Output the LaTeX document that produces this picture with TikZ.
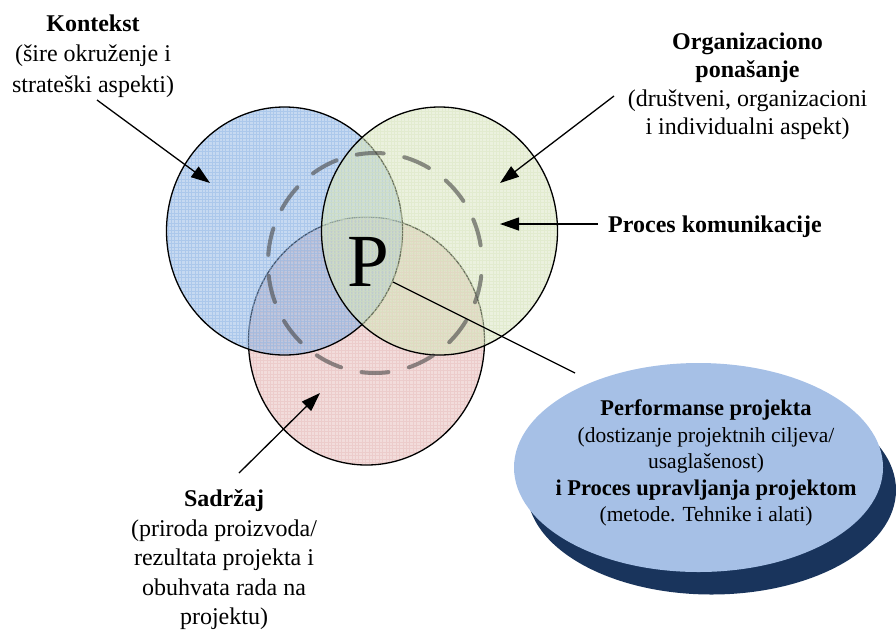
\documentclass[tikz,border=0pt]{standalone}
\usepackage{fontspec}
\setmainfont{Liberation Serif}
\usetikzlibrary{arrows.meta,shapes.geometric}

\definecolor{blueC}{RGB}{141,179,227}
\definecolor{greenC}{RGB}{215,228,189}
\definecolor{redC}{RGB}{229,185,183}
\definecolor{perfFill}{RGB}{166,192,230}
\definecolor{perfShadow}{RGB}{25,52,92}
\definecolor{ringGray}{RGB}{70,70,70}

% one tinted, gridded circle of the Venn figure
% #1 = name, #2 = x, #3 = y, #4 = colour
\newcommand\venncircle[4]{%
  \node[ellipse, minimum width=236pt, minimum height=248pt, inner sep=0pt] (#1) at (#2,#3) {};
  \begin{scope}
    \clip (#2,#3) ellipse [x radius=118, y radius=124];
    \fill[#4, fill opacity=.5] (#2,#3) ellipse [x radius=118, y radius=124];
    \draw[#4, draw opacity=.45, line width=.6pt]
      \foreach \k in {0,...,71} {({#2-120+\k*3.4},{#3-127}) -- ++(0,254)}
      \foreach \k in {0,...,75} {({#2-120},{#3-127+\k*3.4}) -- ++(240,0)};
  \end{scope}
  \draw[line width=1.3pt] (#2,#3) ellipse [x radius=118, y radius=124];
}

\newcommand\perfbold[1]{{\fontsize{22.5}{26.5}\selectfont\bfseries #1}}

\tikzset{
  lbl/.style={align=center, inner sep=0pt, font=\fontsize{24}{29.5}\selectfont},
  perftext/.style={align=center, inner sep=0pt, font=\fontsize{21.5}{26.5}\selectfont},
  pointer/.style={line width=1.3pt, -{Triangle[length=19pt,width=13pt]}},
  ring/.style={ringGray, draw opacity=.6, line width=4pt, line cap=round,
               dash pattern=on 27pt off 21pt, dash phase=35pt},
}

\begin{document}
\begin{tikzpicture}[x=1pt, y=-1pt]
\useasboundingbox (0,0) rectangle (896,630);

% Venn circles: the later ones veil the earlier outlines
\venncircle{sadrzaj}{366.5}{341}{redC}
\venncircle{kontekst}{284.5}{231}{blueC}
\venncircle{organiz}{439.5}{231}{greenC}

% communication ring
\draw[ring] (375,263) ellipse [x radius=107, y radius=110];

% centre letter
\node[inner sep=0pt, font=\fontsize{75}{75}\selectfont] (P) at (368,262) {P};

% project performance ellipse with its shadow
\node[ellipse, fill=perfShadow, minimum width=369pt, minimum height=209pt, inner sep=0pt]
  (perfsh) at (711.5,490) {};
\node[ellipse, fill=perfFill, minimum width=369pt, minimum height=209pt, inner sep=0pt]
  (perf) at (698.5,467.5) {};
\node[perftext] (perflbl) at (706,463)
  {\perfbold{Performanse projekta}\\(dostizanje projektnih ciljeva/\\usaglašenost)\\
   \perfbold{i Proces upravljanja projektom}\\(metode. Tehnike i alati)};

% labels
\node[lbl, font=\fontsize{24}{30.5}\selectfont] (lkont) at (93,56)
  {\textbf{Kontekst}\\(šire okruženje i\\strateški aspekti)};
\node[lbl, font=\fontsize{24}{28.5}\selectfont] (lorg) at (747.5,86)
  {\textbf{Organizaciono}\\\textbf{ponašanje}\\(društveni, organizacioni\\i individualni aspekt)};
\node[lbl] (lproc) at (715,227) {\textbf{Proces komunikacije}};
\node[lbl] (lsad) at (224,560)
  {\textbf{Sadržaj}\\(priroda proizvoda/\\rezultata projekta i\\obuhvata rada na\\projektu)};

% pointer ends
\coordinate (kFrom) at (97,100);   \coordinate (kTo) at (210,183);
\coordinate (oFrom) at (614,96);   \coordinate (oTo) at (500,183);
\coordinate (pFrom) at (598,224);  \coordinate (pTo) at (500,224);
\coordinate (sFrom) at (239,473);  \coordinate (sTo) at (320,393);
\coordinate (Pfoot) at (393,282);  \coordinate (perfIn) at (575,373);

\draw[pointer] (kFrom) -- (kTo);
\draw[pointer] (oFrom) -- (oTo);
\draw[pointer] (pFrom) -- (pTo);
\draw[pointer] (sFrom) -- (sTo);
\draw[line width=1.3pt] (Pfoot) -- (perfIn);
\end{tikzpicture}
\end{document}
